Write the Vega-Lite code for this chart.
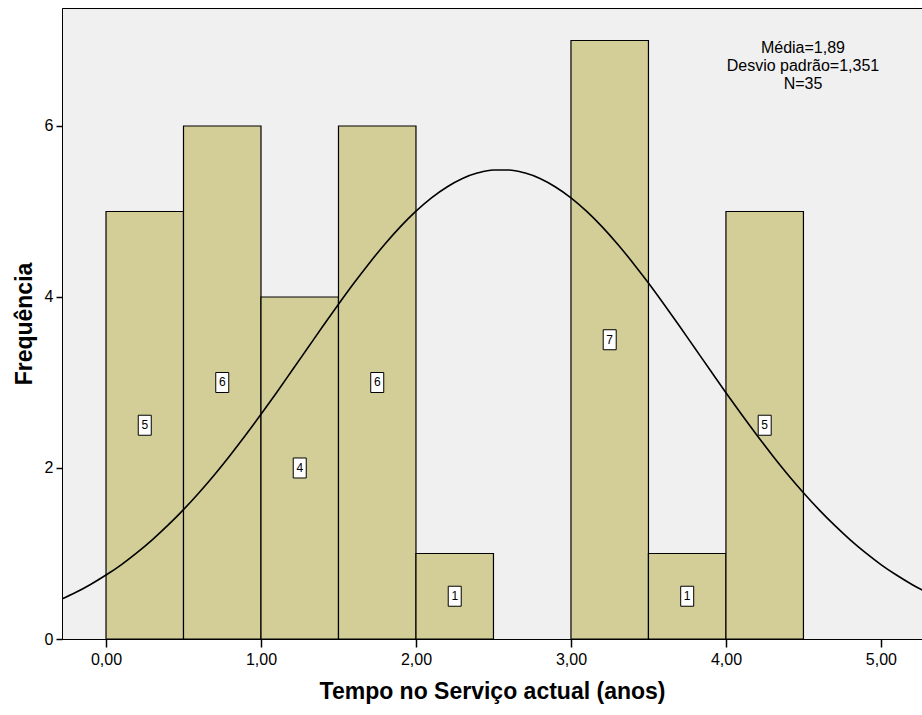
{
  "$schema": "https://vega.github.io/schema/vega-lite/v6.json",
  "width": 860,
  "height": 631,
  "autosize": {"type": "none"},
  "padding": {"left": 62, "top": 8, "right": 0, "bottom": 76},
  "background": "#FFFFFF",
  "config": {
    "view": {"fill": "#F0F0F0", "stroke": "#000000", "strokeWidth": 1},
    "font": "Liberation Sans",
    "axis": {
      "domainColor": "#000000", "tickColor": "#000000", "labelColor": "#000000", "titleColor": "#000000",
      "grid": false, "labelFont": "Liberation Sans", "titleFont": "Liberation Sans",
      "labelFontSize": 16, "titleFontSize": 23, "titleFontWeight": "bold", "domainWidth": 1, "tickWidth": 1.5
    }
  },
  "datasets": {
    "bins": [
      {"bin_start": 0.0, "bin_end": 0.5, "count": 5},
      {"bin_start": 0.5, "bin_end": 1.0, "count": 6},
      {"bin_start": 1.0, "bin_end": 1.5, "count": 4},
      {"bin_start": 1.5, "bin_end": 2.0, "count": 6},
      {"bin_start": 2.0, "bin_end": 2.5, "count": 1},
      {"bin_start": 3.0, "bin_end": 3.5, "count": 7},
      {"bin_start": 3.5, "bin_end": 4.0, "count": 1},
      {"bin_start": 4.0, "bin_end": 4.5, "count": 5}
    ],
    "curve": [
      {"x": -0.3, "y": 0.455}, {"x": -0.2, "y": 0.540}, {"x": -0.1, "y": 0.638}, {"x": 0.0, "y": 0.748},
      {"x": 0.1, "y": 0.871}, {"x": 0.2, "y": 1.010}, {"x": 0.3, "y": 1.163}, {"x": 0.4, "y": 1.331},
      {"x": 0.5, "y": 1.513}, {"x": 0.6, "y": 1.711}, {"x": 0.7, "y": 1.922}, {"x": 0.8, "y": 2.147},
      {"x": 0.9, "y": 2.383}, {"x": 1.0, "y": 2.628}, {"x": 1.1, "y": 2.881}, {"x": 1.2, "y": 3.140},
      {"x": 1.3, "y": 3.400}, {"x": 1.4, "y": 3.660}, {"x": 1.5, "y": 3.915}, {"x": 1.6, "y": 4.163},
      {"x": 1.7, "y": 4.399}, {"x": 1.8, "y": 4.620}, {"x": 1.9, "y": 4.823}, {"x": 2.0, "y": 5.004},
      {"x": 2.1, "y": 5.160}, {"x": 2.2, "y": 5.287}, {"x": 2.3, "y": 5.386}, {"x": 2.4, "y": 5.452},
      {"x": 2.5, "y": 5.486}, {"x": 2.6, "y": 5.486}, {"x": 2.7, "y": 5.452}, {"x": 2.8, "y": 5.386},
      {"x": 2.9, "y": 5.287}, {"x": 3.0, "y": 5.160}, {"x": 3.1, "y": 5.004}, {"x": 3.2, "y": 4.823},
      {"x": 3.3, "y": 4.620}, {"x": 3.4, "y": 4.399}, {"x": 3.5, "y": 4.163}, {"x": 3.6, "y": 3.915},
      {"x": 3.7, "y": 3.660}, {"x": 3.8, "y": 3.400}, {"x": 3.9, "y": 3.140}, {"x": 4.0, "y": 2.881},
      {"x": 4.1, "y": 2.628}, {"x": 4.2, "y": 2.383}, {"x": 4.3, "y": 2.147}, {"x": 4.4, "y": 1.922},
      {"x": 4.5, "y": 1.711}, {"x": 4.6, "y": 1.513}, {"x": 4.7, "y": 1.331}, {"x": 4.8, "y": 1.163},
      {"x": 4.9, "y": 1.010}, {"x": 5.0, "y": 0.871}, {"x": 5.1, "y": 0.748}, {"x": 5.2, "y": 0.638},
      {"x": 5.3, "y": 0.540}
    ],
    "stats": [
      {"x": 4.497, "y": 7.0, "lines": ["Média=1,89", "Desvio padrão=1,351", "N=35"]}
    ]
  },
  "layer": [
    {
      "data": {"name": "bins"},
      "mark": {"type": "rect", "fill": "#D3CE97", "stroke": "#000000", "strokeWidth": 1.2},
      "encoding": {
        "x": {
          "field": "bin_start", "type": "quantitative",
          "scale": {"domain": [-0.284, 5.265], "nice": false, "zero": false},
          "axis": {
            "title": "Tempo no Serviço actual (anos)",
            "values": [0, 1, 2, 3, 4, 5],
            "labelExpr": "replace(format(datum.value, '.2f'), '.', ',')",
            "tickSize": 8, "labelPadding": 4, "titlePadding": 13
          }
        },
        "x2": {"field": "bin_end"},
        "y": {
          "field": "count", "type": "quantitative",
          "scale": {"domain": [0, 7.38], "nice": false},
          "axis": {
            "title": "Frequência",
            "values": [0, 2, 4, 6],
            "format": "d",
            "tickSize": 6, "labelPadding": 3, "titlePadding": 8
          }
        },
        "y2": {"datum": 0}
      }
    },
    {
      "data": {"name": "curve"},
      "mark": {"type": "line", "color": "#000000", "strokeWidth": 1.6, "clip": true, "interpolate": "monotone"},
      "encoding": {
        "x": {"field": "x", "type": "quantitative"},
        "y": {"field": "y", "type": "quantitative"}
      }
    },
    {
      "data": {"name": "bins"},
      "transform": [
        {"calculate": "(datum.bin_start + datum.bin_end) / 2", "as": "mid"},
        {"calculate": "datum.count / 2", "as": "half"}
      ],
      "mark": {"type": "point", "shape": "M-0.65,-1L0.65,-1L0.65,1L-0.65,1Z", "size": 400, "filled": true, "fill": "#FFFFFF", "stroke": "#000000", "strokeWidth": 1, "opacity": 1},
      "encoding": {
        "x": {"field": "mid", "type": "quantitative"},
        "y": {"field": "half", "type": "quantitative"}
      }
    },
    {
      "data": {"name": "bins"},
      "transform": [
        {"calculate": "(datum.bin_start + datum.bin_end) / 2", "as": "mid"},
        {"calculate": "datum.count / 2", "as": "half"}
      ],
      "mark": {"type": "text", "font": "Liberation Sans", "fontSize": 12, "color": "#000000", "align": "center", "baseline": "middle"},
      "encoding": {
        "x": {"field": "mid", "type": "quantitative"},
        "y": {"field": "half", "type": "quantitative"},
        "text": {"field": "count", "type": "quantitative"}
      }
    },
    {
      "data": {"name": "stats"},
      "mark": {"type": "text", "font": "Liberation Sans", "fontSize": 16, "color": "#000000", "align": "center", "baseline": "top", "lineHeight": 18},
      "encoding": {
        "x": {"field": "x", "type": "quantitative"},
        "y": {"field": "y", "type": "quantitative"},
        "text": {"field": "lines"}
      }
    }
  ]
}
